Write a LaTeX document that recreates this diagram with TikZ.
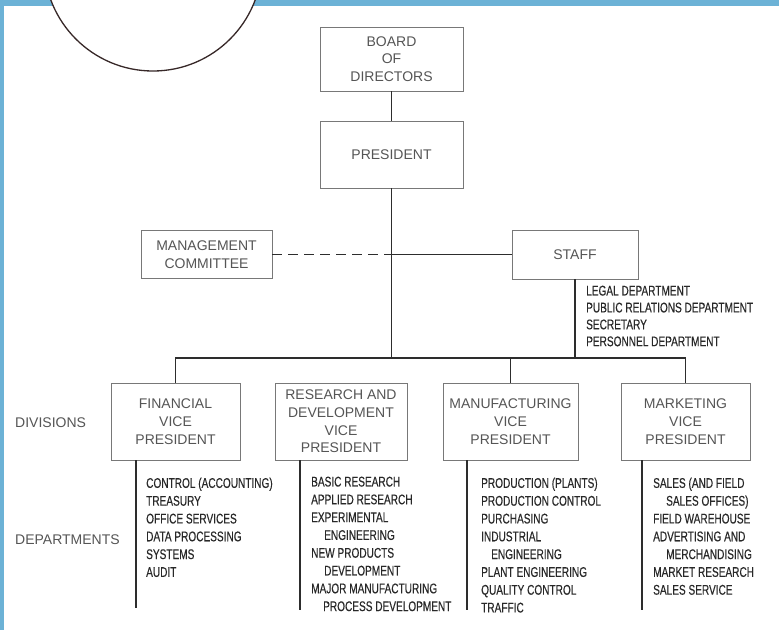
\documentclass[tikz,border=0pt]{standalone}
\usepackage{fontspec}
\setmainfont{Liberation Sans}
\newfontfamily\condfont[FakeStretch=0.72,FakeBold=0.3]{Liberation Sans}
\definecolor{framebl}{RGB}{108,178,214}
\definecolor{boxgray}{RGB}{120,120,120}
\definecolor{boxtext}{RGB}{85,85,85}
\definecolor{listtext}{RGB}{40,40,40}
\definecolor{linecol}{RGB}{45,45,45}
\definecolor{circcol}{RGB}{55,40,40}
\begin{document}
\begin{tikzpicture}[x=1pt,y=-1pt,
  box/.style={draw=boxgray, line width=0.9pt, inner sep=0pt, align=center,
    font=\fontsize{14}{17.7}\selectfont, text=boxtext},
  conn/.style={draw=linecol, line width=1.8pt},
  lst/.style={anchor=north west, inner sep=0pt, align=left,
    font=\condfont\fontsize{14}{17.8}\selectfont, text=listtext},
  lbl/.style={anchor=west, inner sep=0pt, font=\fontsize{14}{17}\selectfont, text=boxtext}]
\useasboundingbox (0,0) rectangle (779,630);
\fill[white] (0,0) rectangle (779,630);
\begin{scope}
\clip (0,0) rectangle (779,630);
\fill[framebl] (0,0) rectangle (779,6);
\fill[framebl] (0,0) rectangle (4,630);
\draw[fill=white, draw=circcol, line width=1.3pt] (153,-38) circle[radius=109pt];
\end{scope}

% boxes
\node[box, minimum width=143pt, minimum height=64pt] (board) at (391.5,59) {BOARD\\OF\\DIRECTORS};
\node[box, minimum width=143pt, minimum height=67pt] (pres) at (391.5,154.5) {PRESIDENT};
\node[box, minimum width=131pt, minimum height=48pt] (mc) at (206.5,254.5) {MANAGEMENT\\COMMITTEE};
\node[box, minimum width=126pt, minimum height=49pt] (staff) at (575,254.5) {STAFF};
\node[box, minimum width=129pt, minimum height=77pt] (fin) at (175.5,421.5) {FINANCIAL\\VICE\\PRESIDENT};
\node[box, minimum width=132pt, minimum height=77pt] (rnd) at (341,421.5) {RESEARCH AND\\DEVELOPMENT\\VICE\\PRESIDENT};
\node[box, minimum width=135pt, minimum height=77pt] (mfg) at (510.5,421.5) {MANUFACTURING\\VICE\\PRESIDENT};
\node[box, minimum width=129pt, minimum height=77pt] (mar) at (685.5,421.5) {MARKETING\\VICE\\PRESIDENT};

% side labels
\node[lbl] (divl) at (15,423) {DIVISIONS};
\node[lbl] (depl) at (15,540) {DEPARTMENTS};

% connectors
\coordinate (bus) at (0,358);
\coordinate (jct) at (pres.south |- mc.east);
\draw[conn] (board.south) -- (pres.north);
\draw[conn] (pres.south) -- (pres.south |- bus);
\draw[conn, dash pattern=on 10pt off 6pt] (mc.east) -- (jct);
\draw[conn] (jct) -- (staff.west);
\draw[conn] (staff.south) -- (staff.south |- bus);
\draw[conn] (fin.north) -- (fin.north |- bus) -- (mar.north |- bus) -- (mar.north);
\draw[conn] (mfg.north |- bus) -- (mfg.north);

% department lines
\coordinate (finEnd) at (136,608);
\coordinate (rndEnd) at (300,610);
\coordinate (mfgEnd) at (467,610);
\coordinate (marEnd) at (642,610);
\draw[conn] (fin.south -| finEnd) -- (finEnd);
\draw[conn] (rnd.south -| rndEnd) -- (rndEnd);
\draw[conn] (mfg.south -| mfgEnd) -- (mfgEnd);
\draw[conn] (mar.south -| marEnd) -- (marEnd);

% lists
\node[lst, font=\condfont\fontsize{14}{16.9}\selectfont] (stl) at (586,285.5)
  {LEGAL DEPARTMENT\\PUBLIC RELATIONS DEPARTMENT\\SECRETARY\\PERSONNEL DEPARTMENT};
\node[lst] (finl) at (146,477.5)
  {CONTROL (ACCOUNTING)\\TREASURY\\OFFICE SERVICES\\DATA PROCESSING\\SYSTEMS\\AUDIT};
\node[lst] (rndl) at (311,476.5)
  {BASIC RESEARCH\\APPLIED RESEARCH\\EXPERIMENTAL\\\hspace*{13pt}ENGINEERING\\NEW PRODUCTS\\\hspace*{13pt}DEVELOPMENT\\MAJOR MANUFACTURING\\\hspace*{12pt}PROCESS DEVELOPMENT};
\node[lst] (mfgl) at (481,477.5)
  {PRODUCTION (PLANTS)\\PRODUCTION CONTROL\\PURCHASING\\INDUSTRIAL\\\hspace*{10pt}ENGINEERING\\PLANT ENGINEERING\\QUALITY CONTROL\\TRAFFIC};
\node[lst] (marl) at (653,477.5)
  {SALES (AND FIELD\\\hspace*{13pt}SALES OFFICES)\\FIELD WAREHOUSE\\ADVERTISING AND\\\hspace*{13pt}MERCHANDISING\\MARKET RESEARCH\\SALES SERVICE};
\end{tikzpicture}
\end{document}
